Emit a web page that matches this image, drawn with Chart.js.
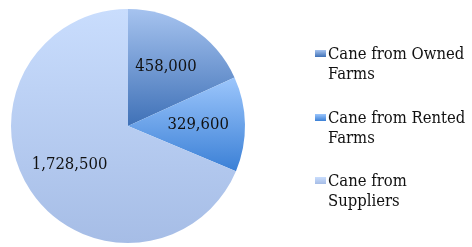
<!DOCTYPE html>
<html>
<head>
<meta charset="utf-8">
<script src="https://cdn.jsdelivr.net/npm/chart.js@4.4.0/dist/chart.umd.min.js"></script>
<style>
  body { margin: 0; background: #fff; }
  #wrap { position: relative; width: 472px; height: 247px; }
  #legend { position: absolute; left: 314px; top: 44px; width: 158px;
            font-family: "DejaVu Serif Condensed", "DejaVu Serif", serif; font-size: 16.5px; line-height: 20px; color: #111; }
  .item { position: relative; padding-left: 14px; height: 40px; margin-bottom: 23.7px; }
  .box { position: absolute; left: 1px; top: 6px; width: 11px; height: 7px; }
</style>
</head>
<body>
<div id="wrap">
  <canvas id="pieChart" width="472" height="247"></canvas>
  <div id="legend"></div>
</div>
<script>
/******************************************************
 * DATA
 ******************************************************/
const categories = ["Cane from Owned Farms", "Cane from Rented Farms", "Cane from Suppliers"];
const caneTonnes = [458000, 329600, 1728500];
const valueLabels = ["458,000", "329,600", "1,728,500"];

// top -> bottom gradient colours of each slice
const sliceColors = [
  ["#a6c3ef", "#3f71b7"],
  ["#9cc6fc", "#3b80d6"],
  ["#c9ddfd", "#a6bde6"]
];

/******************************************************
 * GRADIENT FILL
 ******************************************************/
function sliceGradient(ctx) {
  const i = ctx.dataIndex;
  const chart = ctx.chart;
  const area = chart.chartArea;
  if (!area) return sliceColors[i][0];

  const cx = (area.left + area.right) / 2;
  const cy = (area.top + area.bottom) / 2;
  const r = Math.min(area.width, area.height) / 2;
  const total = caneTonnes.reduce((a, b) => a + b, 0);
  const before = caneTonnes.slice(0, i).reduce((a, b) => a + b, 0);
  const start = -Math.PI / 2 + 2 * Math.PI * before / total;
  const end = start + 2 * Math.PI * caneTonnes[i] / total;

  const ys = [cy, cy + r * Math.sin(start), cy + r * Math.sin(end)];
  const inside = a => [a, a + 2 * Math.PI].some(t => t >= start && t <= end);
  if (inside(Math.PI / 2)) ys.push(cy + r);
  if (inside(-Math.PI / 2)) ys.push(cy - r);

  const g = chart.ctx.createLinearGradient(0, Math.min(...ys), 0, Math.max(...ys));
  g.addColorStop(0, sliceColors[i][0]);
  g.addColorStop(1, sliceColors[i][1]);
  return g;
}

/******************************************************
 * VALUE LABELS
 ******************************************************/
const valueLabelPlugin = {
  id: "valueLabels",
  afterDatasetsDraw(chart) {
    const c = chart.ctx;
    c.save();
    c.font = '16.5px "DejaVu Serif Condensed", "DejaVu Serif", serif';
    c.fillStyle = "#111";
    c.textAlign = "center";
    c.textBaseline = "middle";
    chart.getDatasetMeta(0).data.forEach((arc, i) => {
      const p = arc.getProps(["x", "y", "startAngle", "endAngle", "outerRadius"], true);
      const mid = (p.startAngle + p.endAngle) / 2;
      const d = p.outerRadius * 0.6;
      c.fillText(valueLabels[i], p.x + Math.cos(mid) * d, p.y + Math.sin(mid) * d);
    });
    c.restore();
  }
};

/******************************************************
 * CHART
 ******************************************************/
new Chart(document.getElementById("pieChart"), {
  type: "pie",
  data: {
    labels: categories,
    datasets: [{
      data: caneTonnes,
      backgroundColor: sliceGradient,
      borderWidth: 0,
      hoverOffset: 0,
      offset: 0
    }]
  },
  options: {
    responsive: false,
    animation: false,
    layout: { padding: { left: 11, top: 9, right: 227, bottom: 4 } },
    plugins: {
      legend: { display: false },
      tooltip: { enabled: false }
    }
  },
  plugins: [valueLabelPlugin]
});

/******************************************************
 * LEGEND
 ******************************************************/
const legend = document.getElementById("legend");
categories.forEach((name, i) => {
  const div = document.createElement("div");
  div.className = "item";
  div.innerHTML = `<span class="box" style="background:linear-gradient(${sliceColors[i][0]}, ${sliceColors[i][1]})"></span>${name}`;
  legend.appendChild(div);
});
</script>
</body>
</html>
